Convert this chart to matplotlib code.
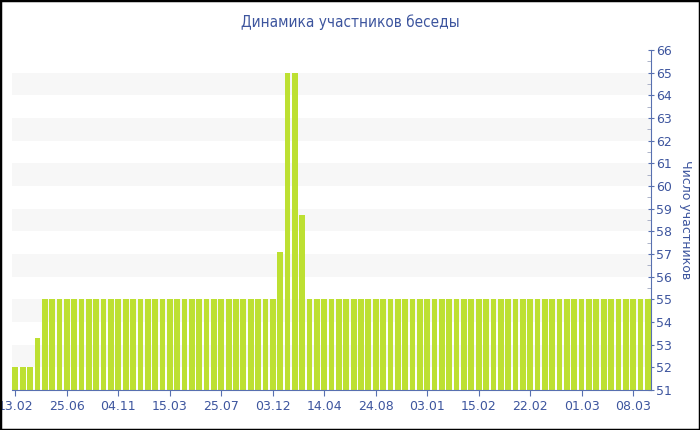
import matplotlib.pyplot as plt
from matplotlib.patches import Rectangle
from matplotlib.ticker import MultipleLocator

title = "Динамика участников беседы"
y_title = "Число участников"

# число участников по дням (87 столбцов)
members = [
    52, 52, 52, 53.3, 55, 55, 55, 55, 55, 55,
    55, 55, 55, 55, 55, 55, 55, 55, 55, 55,
    55, 55, 55, 55, 55, 55, 55, 55, 55, 55,
    55, 55, 55, 55, 55, 55, 57.1, 65, 65, 58.7,
    55, 55, 55, 55, 55, 55, 55, 55, 55, 55,
    55, 55, 55, 55, 55, 55, 55, 55, 55, 55,
    55, 55, 55, 55, 55, 55, 55, 55, 55, 55,
    55, 55, 55, 55, 55, 55, 55, 55, 55, 55,
    55, 55, 55, 55, 55, 55, 55,
]
tick_labels = ["13.02", "25.06", "04.11", "15.03", "25.07", "03.12", "14.04",
               "24.08", "03.01", "15.02", "22.02", "01.03", "08.03"]
tick_step = 7

blue = "#3d559e"
axis_blue = "#5870b0"
green = "#bde032"

fig = plt.figure(figsize=(7, 4.3), dpi=100)
ax = fig.add_axes([0.0167, 0.093, 0.914, 0.791])

# полосы фона
for lo in range(52, 66, 2):
    ax.axhspan(lo, lo + 1, color="#f7f7f7", zorder=0, lw=0)

x = list(range(len(members)))
ax.bar(x, members, width=0.78, color=green, zorder=2)

ax.set_xlim(-0.5, len(members) - 0.5)
ax.set_ylim(51, 66)

ax.set_xticks(x[::tick_step])
ax.set_xticklabels(tick_labels)

ax.yaxis.tick_right()
ax.yaxis.set_label_position("right")
ax.yaxis.set_major_locator(MultipleLocator(1))
ax.yaxis.set_minor_locator(MultipleLocator(0.5))

for s in ["top", "left"]:
    ax.spines[s].set_visible(False)
ax.spines["bottom"].set_color(axis_blue)
ax.spines["right"].set_color(axis_blue)

ax.tick_params(axis="x", colors=axis_blue, labelcolor=blue, labelsize=9,
               length=4, direction="out", pad=3)
ax.tick_params(axis="y", which="major", colors=axis_blue, labelcolor=blue,
               labelsize=9, length=5, direction="inout", pad=1)
ax.tick_params(axis="y", which="minor", colors="#a0a8c0", length=3,
               direction="in")

ax.set_ylabel(y_title, rotation=270, color=blue, fontsize=9, labelpad=14)

fig.text(0.5, 0.948, title, ha="center", va="center", color=blue, fontsize=11,
         family=["Liberation Sans Narrow", "DejaVu Sans"], fontstretch="condensed")

fig.patches.append(Rectangle((0, 0), 1, 1, transform=fig.transFigure,
                             fill=False, edgecolor="black", lw=2.5, zorder=10))

fig.savefig("out.png", dpi=100)
